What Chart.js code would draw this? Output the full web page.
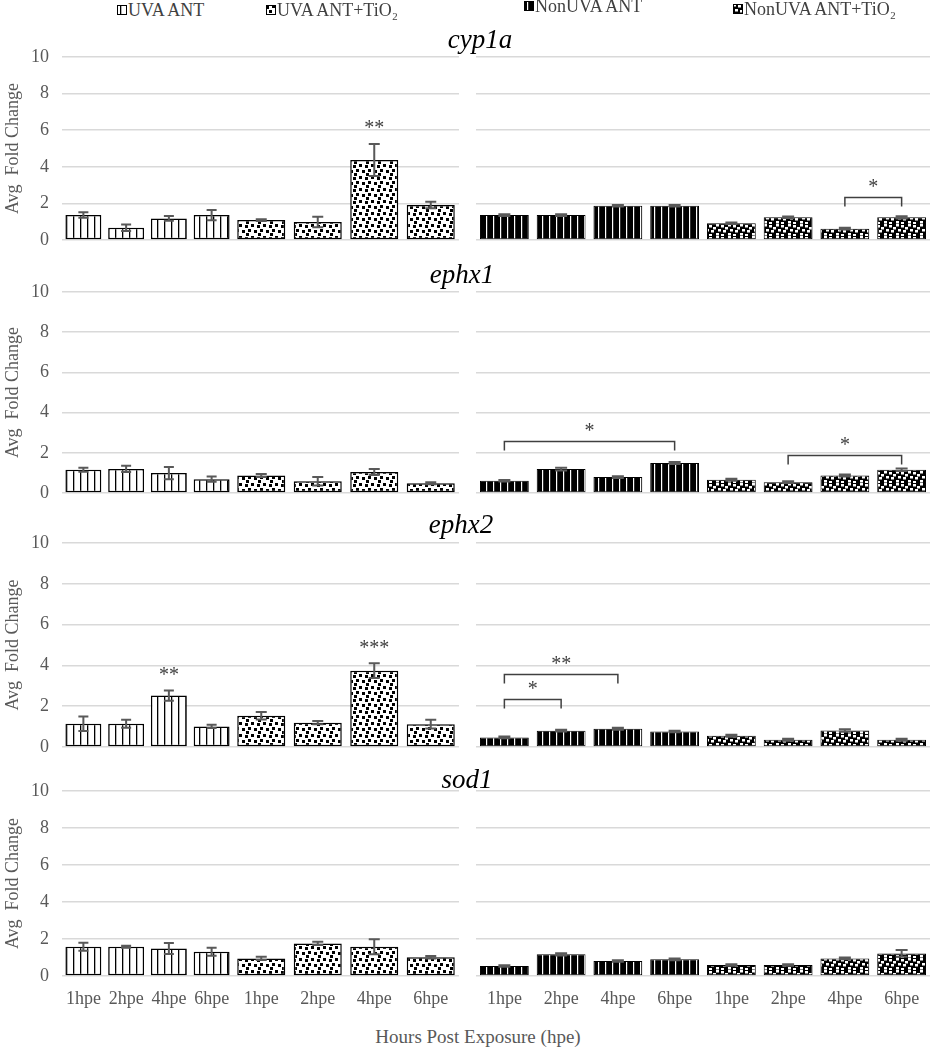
<!DOCTYPE html>
<html><head><meta charset="utf-8">
<script src="https://cdn.jsdelivr.net/npm/chart.js@4.4.1/dist/chart.umd.min.js"></script>
<style>
html,body{margin:0;padding:0;background:#fff;}
body{width:931px;height:1050px;position:relative;overflow:hidden;font-family:'Liberation Serif','Times New Roman',serif;}
.cv{position:absolute;}
.title{position:absolute;font-style:italic;font-size:27px;line-height:27px;color:#000;transform:translateX(-50%);white-space:nowrap;z-index:5;}
.leg{position:absolute;font-size:18px;line-height:18px;height:18px;color:#404040;white-space:nowrap;display:flex;align-items:center;z-index:5;}
.leg canvas{margin-right:1px;}
.xt{position:absolute;font-size:19px;line-height:22px;color:#595959;white-space:nowrap;transform:translateX(-50%);}
</style></head>
<body>
<script>
// ---------- data ----------
const timepoints = ['1hpe', '2hpe', '4hpe', '6hpe'];
const genes = ['cyp1a', 'ephx1', 'ephx2', 'sod1'];
const seriesNames = ['UVA ANT', 'UVA ANT+TiO₂', 'NonUVA ANT', 'NonUVA ANT+TiO₂'];
const yTicks = [0, 2, 4, 6, 8, 10];

const cyp1aUvaAnt      = [1.36, 0.67, 1.18, 1.36];
const cyp1aUvaAntErr   = [0.15, 0.18, 0.13, 0.28];
const cyp1aUvaTio2     = [1.09, 0.98, 4.37, 1.91];
const cyp1aUvaTio2Err  = [0.05, 0.29, 0.87, 0.18];
const cyp1aNonAnt      = [1.36, 1.36, 1.87, 1.87];
const cyp1aNonAntErr   = [0.05, 0.05, 0.04, 0.04];
const cyp1aNonTio2     = [0.91, 1.24, 0.62, 1.24];
const cyp1aNonTio2Err  = [0.04, 0.04, 0.05, 0.06];

const ephx1UvaAnt      = [1.16, 1.20, 0.99, 0.69];
const ephx1UvaAntErr   = [0.10, 0.15, 0.30, 0.13];
const ephx1UvaTio2     = [0.87, 0.58, 1.04, 0.48];
const ephx1UvaTio2Err  = [0.08, 0.21, 0.15, 0.05];
const ephx1NonAnt      = [0.61, 1.19, 0.79, 1.49];
const ephx1NonAntErr   = [0.04, 0.07, 0.04, 0.05];
const ephx1NonTio2     = [0.66, 0.54, 0.87, 1.16];
const ephx1NonTio2Err  = [0.05, 0.04, 0.05, 0.06];

const ephx2UvaAnt      = [1.14, 1.14, 2.52, 1.01];
const ephx2UvaAntErr   = [0.36, 0.20, 0.25, 0.08];
const ephx2UvaTio2     = [1.53, 1.19, 3.74, 1.12];
const ephx2UvaTio2Err  = [0.18, 0.08, 0.36, 0.21];
const ephx2NonAnt      = [0.47, 0.80, 0.89, 0.76];
const ephx2NonAntErr   = [0.04, 0.04, 0.05, 0.04];
const ephx2NonTio2     = [0.55, 0.36, 0.81, 0.36];
const ephx2NonTio2Err  = [0.05, 0.05, 0.06, 0.05];

const sod1UvaAnt       = [1.58, 1.58, 1.49, 1.31];
const sod1UvaAntErr    = [0.22, 0.05, 0.30, 0.22];
const sod1UvaTio2      = [0.95, 1.76, 1.58, 1.01];
const sod1UvaTio2Err   = [0.09, 0.09, 0.40, 0.07];
const sod1NonAnt       = [0.54, 1.17, 0.81, 0.90];
const sod1NonAntErr    = [0.04, 0.06, 0.04, 0.05];
const sod1NonTio2      = [0.59, 0.59, 0.95, 1.22];
const sod1NonTio2Err   = [0.04, 0.04, 0.05, 0.18];

// significance: stars over single bars (series 0/1 = UVA), brackets on NonUVA half (index 0..7)
const cyp1aStars = [{series: 1, index: 2, label: '**'}];
const ephx1Stars = [];
const ephx2Stars = [{series: 0, index: 2, label: '**'}, {series: 1, index: 2, label: '***'}];
const sod1Stars  = [];
const cyp1aBrackets = [{from: 6, to: 7, level: 2.37, label: '*'}];
const ephx1Brackets = [{from: 0, to: 3, level: 2.59, label: '*'}, {from: 5, to: 7, level: 1.90, label: '*'}];
const ephx2Brackets = [{from: 0, to: 1, level: 2.36, label: '*'}, {from: 0, to: 2, level: 3.57, label: '**'}];
const sod1Brackets  = [];

const geneTable = [
  {name: 'cyp1a', s: [cyp1aUvaAnt, cyp1aUvaTio2, cyp1aNonAnt, cyp1aNonTio2], e: [cyp1aUvaAntErr, cyp1aUvaTio2Err, cyp1aNonAntErr, cyp1aNonTio2Err], stars: cyp1aStars, brackets: cyp1aBrackets},
  {name: 'ephx1', s: [ephx1UvaAnt, ephx1UvaTio2, ephx1NonAnt, ephx1NonTio2], e: [ephx1UvaAntErr, ephx1UvaTio2Err, ephx1NonAntErr, ephx1NonTio2Err], stars: ephx1Stars, brackets: ephx1Brackets},
  {name: 'ephx2', s: [ephx2UvaAnt, ephx2UvaTio2, ephx2NonAnt, ephx2NonTio2], e: [ephx2UvaAntErr, ephx2UvaTio2Err, ephx2NonAntErr, ephx2NonTio2Err], stars: ephx2Stars, brackets: ephx2Brackets},
  {name: 'sod1',  s: [sod1UvaAnt, sod1UvaTio2, sod1NonAnt, sod1NonTio2], e: [sod1UvaAntErr, sod1UvaTio2Err, sod1NonAntErr, sod1NonTio2Err], stars: sod1Stars, brackets: sod1Brackets}
];

// ---------- layout ----------
const FONT = "'Liberation Serif', 'Times New Roman', serif";
const LX0 = 62, SPLIT = 233, LX1 = 459, RX0 = 476, RX1 = 930;
const panelRows = [[57, 240], [292, 493], [543, 747], [791, 976]];
const titleCenters = [480, 462, 461, 467];
const titleBaselines = [49, 284, 534, 789];
const PAD = 25, XAXIS_H = 40;
const legendPos = [[117, 10], [266, 10], [524, 6], [733, 9]];

// ---------- patterns ----------
function makeTile(kind) {
  const c = document.createElement('canvas');
  const g = c.getContext('2d');
  if (kind === 0) { // white with black vertical lines
    c.width = 7; c.height = 7; g.fillStyle = '#fff'; g.fillRect(0, 0, 7, 7);
    g.fillStyle = '#000'; g.fillRect(3, 0, 1.3, 7);
  } else if (kind === 1) { // white with black squares
    c.width = 12; c.height = 12; g.fillStyle = '#fff'; g.fillRect(0, 0, 12, 12);
    g.fillStyle = '#000';
    [[0, 1], [6, 0], [3, 5], [9, 6], [1, 9]].forEach(p => g.fillRect(p[0], p[1], 3, 3));
  } else if (kind === 2) { // black with white vertical lines
    c.width = 7; c.height = 7; g.fillStyle = '#000'; g.fillRect(0, 0, 7, 7);
    g.fillStyle = '#fff'; g.fillRect(3, 0, 1.2, 7);
  } else { // black with white squares
    c.width = 12; c.height = 12; g.fillStyle = '#000'; g.fillRect(0, 0, 12, 12);
    g.fillStyle = '#fff';
    [[0, 0], [5, 1], [9, 3], [2, 5], [7, 6], [0, 9], [5, 10]].forEach(p => g.fillRect(p[0], p[1], 3, 2.5));
  }
  return c;
}
const tiles = [0, 1, 2, 3].map(makeTile);
const patterns = tiles.map(t => t.getContext('2d').createPattern(t, 'repeat'));

// ---------- plugin: error bars + significance ----------
const annotPlugin = {
  id: 'annot',
  afterDatasetsDraw(chart) {
    const spec = chart.canvas._annot || {};
    const ctx = chart.ctx, x = chart.scales.x, y = chart.scales.y;
    const capW = spec.capW || 10;
    ctx.save();
    chart.data.datasets.forEach(ds => {
      if (!ds.errors) return;
      ds.data.forEach((v, i) => {
        const e = ds.errors[i];
        if (v == null || e == null) return;
        const px = x.getPixelForValue(i);
        const yt = y.getPixelForValue(v + e), yb = y.getPixelForValue(Math.max(v - e, 0));
        ctx.strokeStyle = '#595959'; ctx.lineWidth = 2;
        ctx.beginPath();
        ctx.moveTo(px, yt); ctx.lineTo(px, yb);
        ctx.moveTo(px - capW / 2, yt); ctx.lineTo(px + capW / 2, yt);
        ctx.moveTo(px - capW / 2, yb); ctx.lineTo(px + capW / 2, yb);
        ctx.stroke();
      });
    });
    ctx.fillStyle = '#404040';
    ctx.font = '20px ' + FONT;
    ctx.textAlign = 'center'; ctx.textBaseline = 'middle';
    (spec.stars || []).forEach(s => {
      const ds = chart.data.datasets[0];
      const v = ds.data[s.index], e = ds.errors[s.index] || 0;
      ctx.fillText(s.label, x.getPixelForValue(s.index), y.getPixelForValue(v + e) - 15);
    });
    ctx.strokeStyle = '#404040'; ctx.lineWidth = 1.5;
    (spec.brackets || []).forEach(b => {
      const x1 = x.getPixelForValue(b.from), x2 = x.getPixelForValue(b.to);
      const yt = Math.round(y.getPixelForValue(b.level)) + 0.5;
      ctx.beginPath();
      ctx.moveTo(x1, yt + 9); ctx.lineTo(x1, yt); ctx.lineTo(x2, yt); ctx.lineTo(x2, yt + 9);
      ctx.stroke();
      ctx.fillText(b.label, (x1 + x2) / 2, yt - 10);
    });
    ctx.restore();
  }
};

function addCanvas(left, top, width, height) {
  const c = document.createElement('canvas');
  c.className = 'cv';
  c.style.left = left + 'px'; c.style.top = top + 'px';
  c.style.width = width + 'px'; c.style.height = height + 'px';
  c.width = width; c.height = height;
  document.body.appendChild(c);
  return c;
}

function buildChart(canvas, labels, datasets, cfg) {
  canvas._annot = {stars: cfg.stars, brackets: cfg.brackets, capW: cfg.capW};
  return new Chart(canvas, {
    type: 'bar',
    data: {labels: labels, datasets: datasets},
    options: {
      responsive: false, animation: false,
      layout: {padding: {top: PAD, bottom: cfg.showX ? 0 : PAD, left: 0, right: 0}},
      plugins: {legend: {display: false}, tooltip: {enabled: false}},
      scales: {
        x: {
          display: cfg.showX,
          grid: {display: false, drawTicks: false}, border: {display: false},
          ticks: {color: '#595959', font: {family: FONT, size: 18}, padding: 12, maxRotation: 0, minRotation: 0, autoSkip: false},
          afterFit: s => { if (cfg.showX) { s.height = XAXIS_H; s.paddingLeft = 0; s.paddingRight = 0; } }
        },
        y: {
          min: 0, max: 10,
          grid: {color: '#d9d9d9', lineWidth: 1.5, drawTicks: false}, border: {display: false},
          afterBuildTicks: s => { s.ticks = yTicks.map(v => ({value: v})); },
          ticks: {display: cfg.showY, color: '#595959', font: {family: FONT, size: 18}, padding: 13},
          title: {display: cfg.showY, text: 'Avg  Fold Change', color: '#595959', font: {family: FONT, size: 18}, padding: {top: 2, bottom: 0}},
          afterFit: s => { s.width = cfg.showY ? LX0 : 0; }
        }
      }
    },
    plugins: [annotPlugin]
  });
}

function barSet(k, data, errors, pct) {
  return {
    label: seriesNames[k], data: data, errors: errors,
    backgroundColor: patterns[k], borderColor: '#000', borderWidth: k < 2 ? 1.5 : 1,
    borderSkipped: false, barPercentage: pct, categoryPercentage: 1, grouped: false
  };
}

const nulls = timepoints.map(() => null);

geneTable.forEach((g, p) => {
  const [y10, y0] = panelRows[p];
  const bottom = p === geneTable.length - 1;
  const top = y10 - PAD;
  const h = (y0 - y10) + PAD + (bottom ? XAXIS_H : PAD);

  const cA = addCanvas(0, top, SPLIT, h);
  buildChart(cA, timepoints, [barSet(0, g.s[0], g.e[0], 0.84)],
    {showY: true, showX: bottom, stars: g.stars.filter(s => s.series === 0), capW: 10});

  const cB = addCanvas(SPLIT, top, LX1 - SPLIT, h);
  buildChart(cB, timepoints, [barSet(1, g.s[1], g.e[1], 0.85)],
    {showY: false, showX: bottom, stars: g.stars.filter(s => s.series === 1), capW: 11});

  const cR = addCanvas(RX0, top, RX1 - RX0, h);
  buildChart(cR, timepoints.concat(timepoints), [
      barSet(2, g.s[2].concat(nulls), g.e[2].concat(nulls), 0.86),
      barSet(3, nulls.concat(g.s[3]), nulls.concat(g.e[3]), 0.86)
    ], {showY: false, showX: bottom, brackets: g.brackets, capW: 12});

  const t = document.createElement('div');
  t.className = 'title';
  t.textContent = g.name;
  t.style.left = titleCenters[p] + 'px';
  t.style.top = (titleBaselines[p] - 22.6) + 'px';
  document.body.appendChild(t);
});

// legend
seriesNames.forEach((name, k) => {
  const d = document.createElement('div');
  d.className = 'leg';
  d.style.left = legendPos[k][0] + 'px';
  d.style.top = (legendPos[k][1] - 9) + 'px';
  const ic = document.createElement('canvas');
  ic.width = 10; ic.height = 10;
  const g = ic.getContext('2d');
  g.fillStyle = g.createPattern(tiles[k], 'repeat');
  g.fillRect(0, 0, 10, 10);
  g.strokeStyle = '#000'; g.lineWidth = 1; g.strokeRect(0.5, 0.5, 9, 9);
  d.appendChild(ic);
  const s = document.createElement('span');
  s.textContent = name;
  d.appendChild(s);
  document.body.appendChild(d);
});

const xt = document.createElement('div');
xt.className = 'xt';
xt.textContent = 'Hours Post Exposure (hpe)';
xt.style.left = '478px';
xt.style.top = '1026px';
document.body.appendChild(xt);
</script>
</body></html>
